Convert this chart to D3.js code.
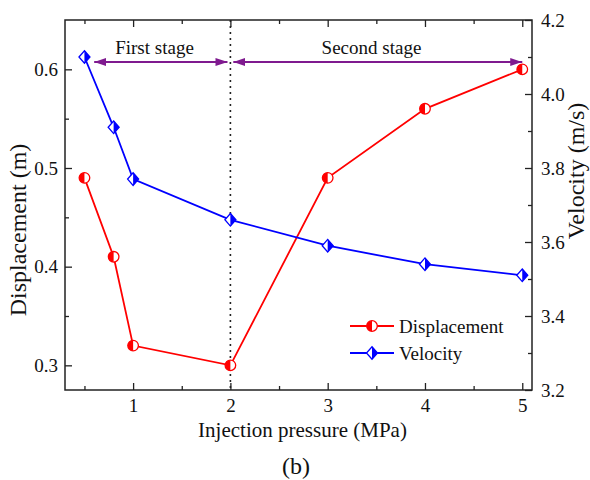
<!DOCTYPE html>
<html>
<head>
<meta charset="utf-8">
<script src="https://cdn.jsdelivr.net/npm/d3@7/dist/d3.min.js"></script>
<style>
  html, body { margin: 0; padding: 0; background: #fff; }
  svg text { font-family: "Liberation Serif", "Times New Roman", serif; fill: #111; }
</style>
</head>
<body>
<svg id="chart" width="590" height="480"></svg>
<script>
// Injection pressure (MPa)
const pressure = [0.5, 0.8, 1, 2, 3, 4, 5];
// Displacement (m)
const displacement = [0.49, 0.41, 0.32, 0.30, 0.49, 0.56, 0.60];
// Velocity (m/s)
const velocity = [4.10, 3.91, 3.77, 3.66, 3.59, 3.54, 3.51];

const xTicks = [1, 2, 3, 4, 5];
const yLeftTicks = [0.3, 0.4, 0.5, 0.6];
const yRightTicks = [3.2, 3.4, 3.6, 3.8, 4.0, 4.2];

// stage boundaries (MPa)
const stageSplit = 2;
const stages = [
  { label: "First stage", from: 0.6, to: 1.97 },
  { label: "Second stage", from: 2.03, to: 5.0 }
];

const serif = "Liberation Serif, Times New Roman, serif";
const svg = d3.select("#chart");
const L = 65, R = 532, T = 20, B = 390;

const x = d3.scaleLinear().domain([0.3, 5.1]).range([L, R]);
const yL = d3.scaleLinear().domain([0.275, 0.65]).range([B, T]);
const yR = d3.scaleLinear().domain([3.2, 4.2]).range([B, T]);

const axisColor = "#222";
const majorLen = 7, minorLen = 4;

// frame
svg.append("rect").attr("x", L).attr("y", T).attr("width", R - L).attr("height", B - T)
  .attr("fill", "none").attr("stroke", axisColor).attr("stroke-width", 1.5);

function styleAxis(g) {
  g.attr("font-family", serif);
  g.select(".domain").remove();
  g.selectAll(".tick line").attr("stroke", axisColor).attr("stroke-width", 1.3);
  g.selectAll(".tick text").attr("font-size", 19).attr("fill", "#111");
}

const minorX = d3.range(0.5, 5.01, 0.5).filter(v => !xTicks.includes(v));

// bottom axis
svg.append("g").attr("transform", `translate(0,${B})`)
  .call(d3.axisBottom(x).tickValues(xTicks).tickFormat(d3.format("d"))
    .tickSizeInner(-majorLen).tickSizeOuter(0).tickPadding(9))
  .call(styleAxis);
svg.append("g").attr("transform", `translate(0,${B})`)
  .call(d3.axisBottom(x).tickValues(minorX).tickFormat("").tickSizeInner(-minorLen).tickSizeOuter(0))
  .call(styleAxis);
// top axis (ticks only)
svg.append("g").attr("transform", `translate(0,${T})`)
  .call(d3.axisTop(x).tickValues(xTicks).tickFormat("").tickSizeInner(-majorLen).tickSizeOuter(0))
  .call(styleAxis);
svg.append("g").attr("transform", `translate(0,${T})`)
  .call(d3.axisTop(x).tickValues(minorX).tickFormat("").tickSizeInner(-minorLen).tickSizeOuter(0))
  .call(styleAxis);

// left axis
const minorL = [0.35, 0.45, 0.55];
svg.append("g").attr("transform", `translate(${L},0)`)
  .call(d3.axisLeft(yL).tickValues(yLeftTicks).tickFormat(d3.format(".1f"))
    .tickSizeInner(-majorLen).tickSizeOuter(0).tickPadding(7))
  .call(styleAxis);
svg.append("g").attr("transform", `translate(${L},0)`)
  .call(d3.axisLeft(yL).tickValues(minorL).tickFormat("").tickSizeInner(-minorLen).tickSizeOuter(0))
  .call(styleAxis);

// right axis
const minorR = [3.3, 3.5, 3.7, 3.9, 4.1];
svg.append("g").attr("transform", `translate(${R},0)`)
  .call(d3.axisRight(yR).tickValues(yRightTicks).tickFormat(d3.format(".1f"))
    .tickSizeInner(-majorLen).tickSizeOuter(0).tickPadding(9))
  .call(styleAxis);
svg.append("g").attr("transform", `translate(${R},0)`)
  .call(d3.axisRight(yR).tickValues(minorR).tickFormat("").tickSizeInner(-minorLen).tickSizeOuter(0))
  .call(styleAxis);

// axis titles
svg.append("text").attr("x", (L + R) / 2 + 4).attr("y", 437).attr("text-anchor", "middle")
  .attr("font-family", serif).attr("font-size", 21).text("Injection pressure (MPa)");
svg.append("text").attr("transform", `translate(26,230) rotate(-90)`)
  .attr("text-anchor", "middle").attr("font-family", serif).attr("font-size", 24)
  .text("Displacement (m)");
svg.append("text").attr("transform", `translate(584,171) rotate(-90)`)
  .attr("text-anchor", "middle").attr("font-family", serif).attr("font-size", 24)
  .text("Velocity (m/s)");
svg.append("text").attr("x", 296).attr("y", 474).attr("text-anchor", "middle")
  .attr("font-family", serif).attr("font-size", 24).text("(b)");

// stage divider
svg.append("line").attr("x1", x(stageSplit)).attr("x2", x(stageSplit))
  .attr("y1", T).attr("y2", B)
  .attr("stroke", "#222").attr("stroke-width", 1.6).attr("stroke-dasharray", "2,4");

// stage arrows
const purple = "#7f1a8f";
const defs = svg.append("defs");
defs.append("marker").attr("id", "ah").attr("viewBox", "0 0 12 8")
  .attr("refX", 12).attr("refY", 4).attr("markerWidth", 12).attr("markerHeight", 8)
  .attr("markerUnits", "userSpaceOnUse").attr("orient", "auto-start-reverse")
  .append("path").attr("d", "M0,0 L12,4 L0,8 Z").attr("fill", purple);

const arrowY = 62;
stages.forEach(s => {
  svg.append("line").attr("x1", x(s.from)).attr("x2", x(s.to))
    .attr("y1", arrowY).attr("y2", arrowY)
    .attr("stroke", purple).attr("stroke-width", 1.8)
    .attr("marker-start", "url(#ah)").attr("marker-end", "url(#ah)");
});
svg.append("text").attr("x", x(1.22)).attr("y", 54).attr("text-anchor", "middle")
  .attr("font-family", serif).attr("font-size", 19).text(stages[0].label);
svg.append("text").attr("x", x(3.45)).attr("y", 54).attr("text-anchor", "middle")
  .attr("font-family", serif).attr("font-size", 19).text(stages[1].label);

// series
const red = "#ff0000", blue = "#0000ff";
const dispData = pressure.map((p, i) => [p, displacement[i]]);
const velData = pressure.map((p, i) => [p, velocity[i]]);

svg.append("path").datum(dispData)
  .attr("d", d3.line().x(d => x(d[0])).y(d => yL(d[1])))
  .attr("fill", "none").attr("stroke", red).attr("stroke-width", 1.8);
svg.append("path").datum(velData)
  .attr("d", d3.line().x(d => x(d[0])).y(d => yR(d[1])))
  .attr("fill", "none").attr("stroke", blue).attr("stroke-width", 1.8);

// half-filled circle marker (left half solid)
function circleMarker(g, cx, cy) {
  const r = 5.3;
  g.append("circle").attr("cx", cx).attr("cy", cy).attr("r", r)
    .attr("fill", "#fff").attr("stroke", red).attr("stroke-width", 1.3);
  g.append("path")
    .attr("d", `M${cx},${cy - r} A${r},${r} 0 0 0 ${cx},${cy + r} Z`)
    .attr("fill", red);
}
// half-filled diamond marker (right half solid)
function diamondMarker(g, cx, cy) {
  const w = 5.5, h = 6.3;
  g.append("path")
    .attr("d", `M${cx},${cy - h} L${cx + w},${cy} L${cx},${cy + h} L${cx - w},${cy} Z`)
    .attr("fill", "#fff").attr("stroke", blue).attr("stroke-width", 1.3);
  g.append("path")
    .attr("d", `M${cx},${cy - h} L${cx + w},${cy} L${cx},${cy + h} Z`)
    .attr("fill", blue);
}

const mk = svg.append("g");
dispData.forEach(d => circleMarker(mk, x(d[0]), yL(d[1])));
velData.forEach(d => diamondMarker(mk, x(d[0]), yR(d[1])));

// legend
const legend = svg.append("g");
const legendItems = [
  { name: "Displacement", color: red, draw: circleMarker, y: 326 },
  { name: "Velocity", color: blue, draw: diamondMarker, y: 353 }
];
legendItems.forEach(it => {
  legend.append("line").attr("x1", 350).attr("x2", 394).attr("y1", it.y).attr("y2", it.y)
    .attr("stroke", it.color).attr("stroke-width", 1.8);
  it.draw(legend, 372, it.y);
  legend.append("text").attr("x", 399).attr("y", it.y + 7)
    .attr("font-family", serif).attr("font-size", 19).text(it.name);
});
</script>
</body>
</html>
